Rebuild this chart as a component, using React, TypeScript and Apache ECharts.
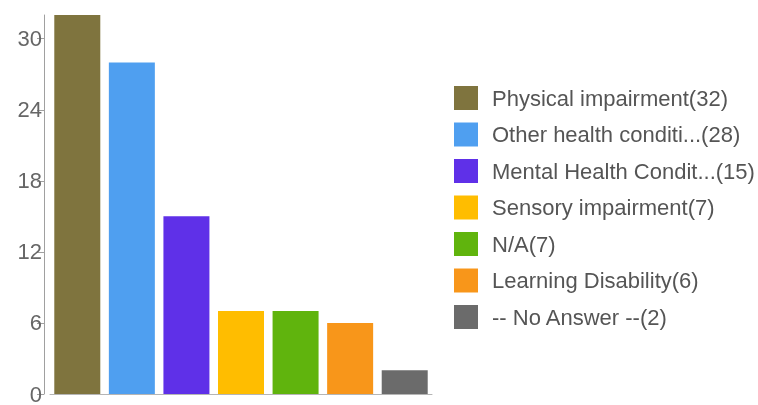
import React, { useEffect, useRef } from "react";
import * as echarts from "echarts";

const categories = [
  "Physical impairment",
  "Other health conditi...",
  "Mental Health Condit...",
  "Sensory impairment",
  "N/A",
  "Learning Disability",
  "-- No Answer --",
];
const values = [32, 28, 15, 7, 7, 6, 2];
const colors = ["#7f743e", "#4f9ff0", "#5f30e8", "#ffbd00", "#60b40d", "#f8961a", "#6b6b6b"];
const yTicks = { min: 0, max: 32, interval: 6 };

export default function App() {
  const ref = useRef<HTMLDivElement>(null);
  useEffect(() => {
    if (!ref.current) return;
    const chart = echarts.init(ref.current, null, { renderer: "svg" });
    const series = categories.map((name, i) => ({
      name,
      type: "bar",
      stack: "all",
      barWidth: 46,
      itemStyle: { color: colors[i] },
      data: categories.map((_, j) => (j === i ? values[i] : null)),
    }));
    chart.setOption({
      animation: false,
      grid: { left: 50, right: 326, top: 15, bottom: 7 },
      xAxis: {
        type: "category",
        data: categories,
        axisLine: { lineStyle: { color: "#b5b5b5", width: 1 } },
        axisTick: { show: false },
        axisLabel: { show: false },
      },
      yAxis: {
        type: "value",
        min: yTicks.min,
        max: yTicks.max,
        interval: yTicks.interval,
        offset: 6,
        axisLine: { show: true, lineStyle: { color: "#a0a0a0", width: 1 } },
        axisTick: { show: true, length: 7, lineStyle: { color: "#a0a0a0" } },
        axisLabel: {
          color: "#666",
          fontSize: 22,
          fontFamily: "Liberation Sans, Arial, sans-serif",
          margin: 2,
          showMaxLabel: false,
        },
        splitLine: { show: false },
      },
      legend: {
        orient: "vertical",
        left: 454,
        top: 86,
        padding: 0,
        itemWidth: 24,
        itemHeight: 24,
        itemGap: 12.5,
        itemStyle: { borderWidth: 0 },
        icon: "rect",
        data: categories,
        selectedMode: false,
        textStyle: {
          color: "#555",
          fontSize: 22,
          fontFamily: "Liberation Sans, Arial, sans-serif",
          padding: [0, 0, 0, 9],
        },
        formatter: (name: string) => `${name}(${values[categories.indexOf(name)]})`,
      },
      series,
    });
    return () => chart.dispose();
  }, []);
  return <div ref={ref} style={{ position: "fixed", left: 0, top: 0, width: 758, height: 405 }} />;
}
